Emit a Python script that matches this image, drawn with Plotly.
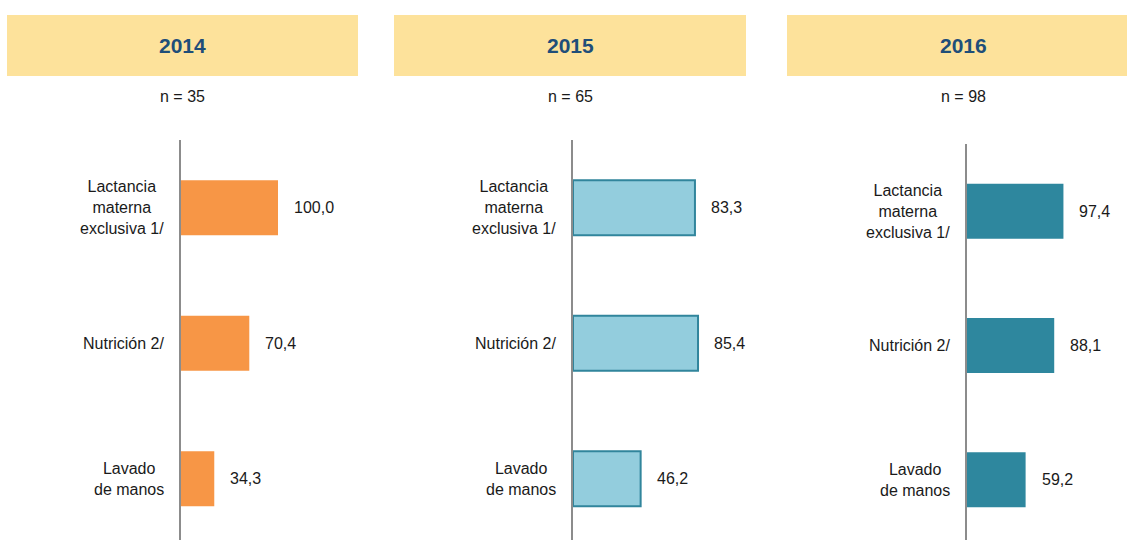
import plotly.graph_objects as go

# ---- data ----
years = ["2014", "2015", "2016"]
sample_sizes = ["n = 35", "n = 65", "n = 98"]
categories = ["Lactancia<br>materna<br>exclusiva 1/", "Nutrición 2/", "Lavado<br>de manos"]
values_2014 = [100.0, 70.4, 34.3]
values_2015 = [83.3, 85.4, 46.2]
values_2016 = [97.4, 88.1, 59.2]
series = [values_2014, values_2015, values_2016]

# ---- styling / layout ----
W, H = 1127, 540
OFF = 0
FONT = "Liberation Sans, Arial, sans-serif"
BODY = 16
bar_colors = ["#F79646", "#93CDDD", "#2E879E"]
bar_lines = [("#F79646", 0), ("#31859C", 2), ("#2E879E", 0)]
panels = [
    dict(axis_x=181, scale=0.97, top=140, spacing=135.5, head=(7, 358)),
    dict(axis_x=573, scale=1.464, top=140, spacing=135.5, head=(394, 746)),
    dict(axis_x=967, scale=0.99, top=144, spacing=134.25, head=(787, 1139)),
]


def px(x):
    return (x - OFF) / W


def py(y):
    return 1 - (y - OFF) / H


fig = go.Figure()
layout = dict(
    width=W, height=H, margin=dict(l=0, r=0, t=0, b=0),
    paper_bgcolor="white", plot_bgcolor="rgba(0,0,0,0)",
    showlegend=False, font=dict(family=FONT, size=BODY, color="#1a1a1a"),
    shapes=[], annotations=[],
)

for i, (p, vals) in enumerate(zip(panels, series)):
    sx = "" if i == 0 else str(i + 1)
    xa, ya = "x" + sx, "y" + sx
    span = 150
    layout["xaxis" + sx] = dict(
        domain=[px(p["axis_x"]), min(1, px(p["axis_x"] + span))],
        range=[0, min(span, W - p["axis_x"]) / p["scale"]],
        visible=False, anchor=ya, fixedrange=True,
    )
    nunits = (540 - p["top"]) / p["spacing"]
    layout["yaxis" + sx] = dict(
        domain=[max(0, py(540)), py(p["top"])],
        range=[nunits - 0.5, -0.5], type="category",
        categoryorder="array", categoryarray=categories,
        showline=True, linecolor="#8C8C8C", linewidth=2,
        showticklabels=False, showgrid=False, zeroline=False, ticks="",
        anchor=xa, fixedrange=True,
    )
    lc, lw = bar_lines[i]
    fig.add_trace(go.Bar(
        x=vals, y=categories, orientation="h", xaxis=xa, yaxis=ya,
        width=55 / p["spacing"], base=0,
        marker=dict(color=bar_colors[i], line=dict(color=lc, width=lw)),
        hoverinfo="skip",
    ))
    for cat, v in zip(categories, vals):
        layout["annotations"].append(dict(
            xref=xa, yref=ya, x=0, y=cat, text=cat, showarrow=False,
            xanchor="right", yanchor="middle", align="center", xshift=-15,
            font=dict(family=FONT, size=BODY, color="#1a1a1a"),
        ))
        layout["annotations"].append(dict(
            xref=xa, yref=ya, x=v, y=cat, text=f"{v:.1f}".replace(".", ","),
            showarrow=False, xanchor="left", yanchor="middle", xshift=14,
            font=dict(family=FONT, size=BODY, color="#1a1a1a"),
        ))
    hx0, hx1 = p["head"]
    layout["shapes"].append(dict(
        type="rect", xref="paper", yref="paper",
        x0=px(hx0), x1=px(hx1), y0=py(76), y1=py(15),
        fillcolor="#FDE29B", line=dict(width=0), layer="below",
    ))
    cx = px((hx0 + hx1) / 2)
    layout["annotations"].append(dict(
        xref="paper", yref="paper", x=cx, y=py(46), text=f"<b>{years[i]}</b>",
        showarrow=False, xanchor="center", yanchor="middle",
        font=dict(family=FONT, size=21, color="#1F4E79"),
    ))
    layout["annotations"].append(dict(
        xref="paper", yref="paper", x=cx, y=py(96), text=sample_sizes[i],
        showarrow=False, xanchor="center", yanchor="middle",
        font=dict(family=FONT, size=BODY, color="#1a1a1a"),
    ))

fig.update_layout(**layout)
fig.write_html(
    "out.html",
    config={"displayModeBar": False, "staticPlot": True},
    post_script="document.body.style.margin='0';document.body.style.overflow='hidden';",
)
